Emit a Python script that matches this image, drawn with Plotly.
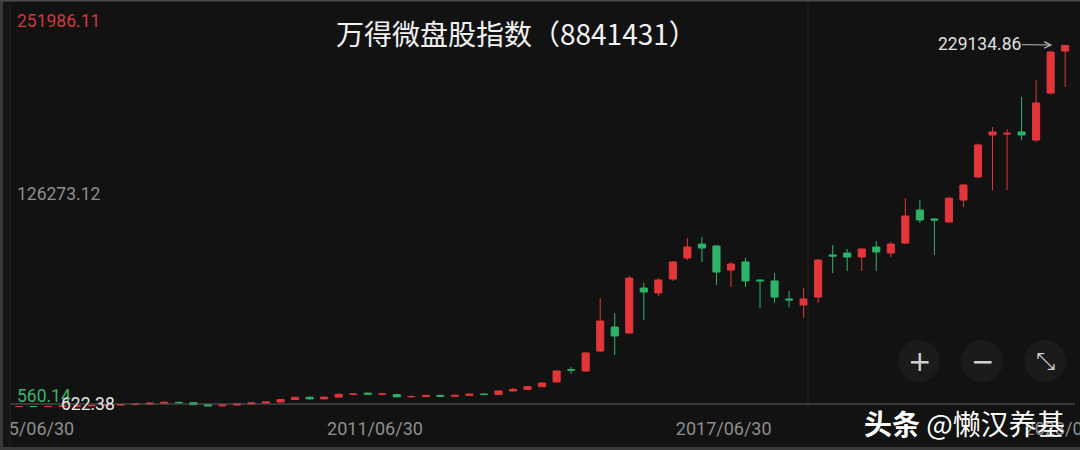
import plotly.graph_objects as go

# ---------------- data ----------------
quarter_ends = ["03/31", "06/30", "09/30", "12/31"]
dates = [f"{y}/{q}" for y in range(2005, 2024) for q in quarter_ends][1:-2]

open_ = [700, 850, 780, 900, 1150, 1300, 1500, 1750, 2100, 2400,
         3000, 3500, 3300, 2000, 1300, 1800, 2500, 3100, 3700, 5300,
         6700, 5700, 6800, 8600, 9300, 8700, 8400, 7000, 7200, 7900,
         7400, 7900, 8700, 8400, 10700, 11700, 13400, 16400, 24200, 23300,
         35900, 51100, 47300, 75700, 72600, 81400, 94700, 103500, 102300, 87100,
         92200, 80800, 80200, 68800, 65000, 70000, 96600, 97800, 95300, 101600,
         97800, 104100, 125000, 119300, 117400, 131300, 145900, 172400, 173000, 174300,
         169200, 198900, 225400]
high = [1000, 1000, 950, 1250, 1400, 1600, 1900, 2300, 2600, 3300,
        3700, 3900, 3400, 2200, 1900, 2700, 3300, 3900, 5600, 7000,
        7100, 7000, 9000, 9300, 9900, 9500, 8900, 7900, 8300, 8200,
        8300, 9000, 9300, 11000, 12600, 13900, 16000, 23600, 25800, 35300,
        69400, 59900, 83300, 78900, 82000, 92800, 107300, 107900, 102900, 92200,
        94700, 81000, 85200, 73800, 75700, 94000, 102900, 100400, 100600, 105400,
        104700, 132500, 131300, 120000, 133000, 141500, 167000, 177400, 176000, 196400,
        207100, 225500, 229134.86]
low = [560.14, 720, 700, 850, 1000, 1150, 1400, 1650, 1700, 2200,
       2700, 2800, 1800, 1100, 1000, 1700, 2300, 2900, 3600, 5100,
       5300, 5400, 6600, 8000, 8500, 7900, 6600, 6700, 6900, 7000,
       7100, 7700, 8100, 8200, 10200, 11400, 13100, 16000, 21400, 22800,
       35300, 33400, 46800, 55500, 70700, 80200, 93400, 92200, 77600, 76400,
       76400, 63100, 66300, 63500, 56800, 66300, 85200, 86500, 86500, 86500,
       95300, 103500, 116800, 96600, 117000, 126900, 145000, 137600, 137600, 169000,
       168000, 198000, 202700]
close = [850, 780, 900, 1150, 1300, 1500, 1750, 2100, 2400, 3000,
         3500, 3300, 2000, 1300, 1800, 2500, 3100, 3700, 5300, 6700,
         5700, 6800, 8600, 8700, 8700, 8800, 7000, 7200, 7900, 7400,
         7900, 8700, 8500, 10700, 11700, 13400, 15700, 23300, 23900, 34700,
         54900, 45400, 82000, 73200, 80800, 92200, 101600, 101000, 85800, 90900,
         80200, 80300, 70000, 68200, 68800, 93400, 95900, 95300, 100400, 98500,
         103500, 121200, 118700, 118700, 132500, 140800, 166100, 174300, 173500, 172400,
         192600, 224800, 229000]

x_labels = ["2005/06/30", "2011/06/30", "2017/06/30", "2023/06/30"]
y_top, y_mid, y_bottom = 251986.11, 126273.12, 560.14
last_low_label = 622.38
max_high = 229134.86
title = "万得微盘股指数（8841431）"
watermark = "<b>头条</b> @懒汉养基"

# ---------------- style ----------------
BG = "#121212"
RED = "#E3363B"
GREEN = "#2DB36A"
W, H = 1080, 450
TOP, BOT = 9, 407  # plot area in pixels
NUMFONT = "Roboto"


def px(x):
    return x / W


def py(y):
    return (BOT - y) / (BOT - TOP)


xs = list(range(len(dates)))

fig = go.Figure(go.Candlestick(
    x=xs, open=open_, high=high, low=low, close=close,
    increasing=dict(line=dict(color=RED, width=1), fillcolor=RED),
    decreasing=dict(line=dict(color=GREEN, width=1), fillcolor=GREEN),
    hoverinfo="skip", showlegend=False,
))

step = 14.53
x0 = -19 / step
fig.update_layout(
    width=W, height=H,
    margin=dict(l=0, r=0, t=TOP, b=H - BOT, pad=0, autoexpand=False),
    paper_bgcolor=BG, plot_bgcolor=BG,
    showlegend=False,
    xaxis=dict(
        range=[x0, x0 + W / step], showgrid=False, zeroline=False,
        rangeslider=dict(visible=False),
        tickmode="array",
        tickvals=[dates.index(l) + 0.5 for l in x_labels],
        ticktext=x_labels, ticks="", ticklabelstandoff=9,
        ticklabeloverflow="allow",
        tickfont=dict(family=NUMFONT, size=18, color="#8E8E8E"),
        fixedrange=True,
    ),
    yaxis=dict(
        range=[y_bottom, y_top], showgrid=False, zeroline=False,
        showticklabels=False, fixedrange=True,
    ),
    font=dict(family="Noto Sans CJK SC"),
)

shapes = [
    # faint vertical crosshair
    dict(type="line", xref="paper", yref="paper", x0=px(808), x1=px(808), y0=py(407), y1=py(0),
         line=dict(color="#202020", width=1)),
    # bottom baseline
    dict(type="line", xref="paper", yref="paper", x0=px(8), x1=px(1075), y0=py(404), y1=py(404),
         line=dict(color="#5E5E5E", width=1)),
    # left frame (clips the chart at x=10)
    dict(type="rect", xref="paper", yref="paper", x0=px(0), x1=px(10), y0=py(450), y1=py(0),
         fillcolor="#141414", line=dict(width=0), layer="above"),
    dict(type="line", xref="paper", yref="paper", x0=px(10), x1=px(10), y0=py(450), y1=py(0),
         line=dict(color="#222222", width=1), layer="above"),
    dict(type="rect", xref="paper", yref="paper", x0=px(0), x1=px(3), y0=py(450), y1=py(0),
         fillcolor="#3A3A3A", line=dict(width=0), layer="above"),
    dict(type="rect", xref="paper", yref="paper", x0=px(0), x1=px(1080), y0=py(1.5), y1=py(0),
         fillcolor="#4A4A4A", line=dict(width=0), layer="above"),
    dict(type="rect", xref="paper", yref="paper", x0=px(0), x1=px(1080), y0=py(450), y1=py(447),
         fillcolor="#3A3A3A", line=dict(width=0), layer="above"),
]
for cx in (919, 982, 1045):
    shapes.append(dict(type="circle", xref="paper", yref="paper",
                       x0=px(cx - 21), x1=px(cx + 21), y0=py(361 + 21), y1=py(361 - 21),
                       fillcolor="#1B1B1B", line=dict(width=0), layer="above"))
fig.update_layout(shapes=shapes)

ann = []
# y labels
ann.append(dict(xref="paper", yref="y", x=px(15), y=y_top, xanchor="left", yanchor="top",
                text=f"{y_top:.2f}", showarrow=False,
                font=dict(family=NUMFONT, size=17.5, color="#D0383D")))
ann.append(dict(xref="paper", yref="y", x=px(15), y=y_mid, xanchor="left", yanchor="bottom",
                yshift=2, text=f"{y_mid:.2f}", showarrow=False,
                font=dict(family=NUMFONT, size=17.5, color="#8E8E8E")))
ann.append(dict(xref="paper", yref="y", x=px(15), y=y_bottom, xanchor="left", yanchor="bottom",
                yshift=-1, text=f"{y_bottom:.2f}", showarrow=False,
                font=dict(family=NUMFONT, size=17.5, color="#39B56A")))
ann.append(dict(xref="paper", yref="y", x=px(59), y=y_bottom, xanchor="left", yanchor="bottom",
                yshift=-9, text=f"{last_low_label:.2f}", showarrow=False,
                font=dict(family=NUMFONT, size=17.5, color="#E8E8E8")))
# max marker
ann.append(dict(x=xs[-1], y=max_high, xref="x", yref="y", text=f"{max_high:.2f}",
                xanchor="center", yanchor="middle",
                showarrow=True, axref="pixel", ayref="pixel", ax=-86, ay=-1,
                arrowhead=5, arrowsize=1.3, arrowwidth=1, arrowcolor="#BDBDBD", standoff=13,
                font=dict(family=NUMFONT, size=17.5, color="#E0E0E0")))
# title
ann.append(dict(xref="paper", yref="paper", x=px(516), y=py(33), xanchor="center", yanchor="middle",
                text=title, showarrow=False,
                font=dict(family="Noto Sans CJK SC", size=28, color="#F2F2F2")))
# zoom buttons
for cx, sym, sz in ((919, "+", 28), (982, "−", 28), (1045, "⤡", 24)):
    ann.append(dict(xref="paper", yref="paper", x=px(cx), y=py(361), xanchor="center", yanchor="middle",
                    text=sym, showarrow=False,
                    font=dict(family="DejaVu Sans", size=sz, color="#CFCFCF")))
# watermark
ann.append(dict(xref="paper", yref="paper", x=px(964), y=py(423), xanchor="center", yanchor="middle",
                text=watermark, showarrow=False,
                font=dict(family="Noto Sans CJK SC", size=28, color="#FFFFFF")))
fig.update_layout(annotations=ann)

fig.write_html("out.html", config={"displayModeBar": False},
               post_script="document.body.style.margin='0';")
